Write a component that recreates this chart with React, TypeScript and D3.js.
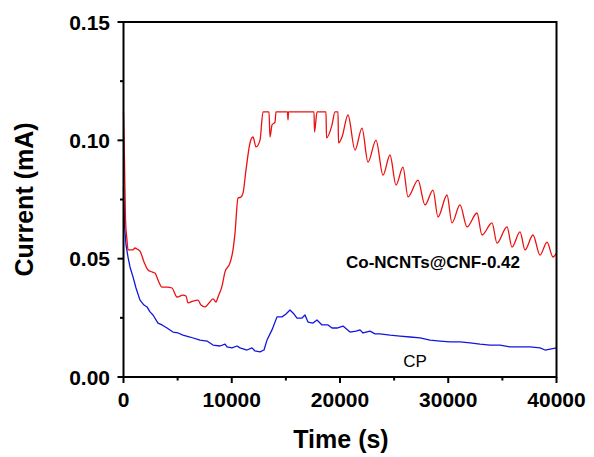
import React from "react";
import * as d3 from "d3";

const redTime = [0, 92, 185, 323, 416, 878, 1062, 1247, 1524, 1894, 2263, 2633, 2910, 3187, 3557, 4019, 4480, 4942, 5497, 5774, 5958, 6420, 6882, 7160, 7529, 7899, 8268, 8545, 8730, 9099, 9377, 9839, 10116, 10300, 10578, 10855, 11040, 11317, 11686, 11963, 12240, 12610, 12887, 13441, 13533, 13718, 13996, 14088, 15150, 15197, 15243, 17599, 17645, 17876, 18707, 18753, 19262, 19539, 19816, 19862, 20185, 20739, 21386, 22033, 22587, 23326, 23972, 24619, 25174, 25820, 26282, 27206, 27853, 28592, 29054, 29885, 30347, 31086, 31732, 32656, 33118, 34042, 34504, 35428, 35890, 36629, 37091, 37830, 38477, 39123, 39677, 40000];
const redCurrent = [0.112, 0.0917, 0.0663, 0.0579, 0.0537, 0.0537, 0.0545, 0.0541, 0.0532, 0.0486, 0.0452, 0.0444, 0.0439, 0.041, 0.038, 0.038, 0.0376, 0.0338, 0.0346, 0.0342, 0.0313, 0.0321, 0.0325, 0.0304, 0.0296, 0.0313, 0.033, 0.0317, 0.0338, 0.0384, 0.0444, 0.0482, 0.0537, 0.0608, 0.0756, 0.0761, 0.0777, 0.0875, 0.0989, 0.1014, 0.0972, 0.1001, 0.112, 0.112, 0.1014, 0.1065, 0.1077, 0.112, 0.112, 0.1086, 0.112, 0.112, 0.1035, 0.112, 0.112, 0.101, 0.1065, 0.112, 0.112, 0.0989, 0.1014, 0.1107, 0.0959, 0.1052, 0.0908, 0.1001, 0.0853, 0.0938, 0.0811, 0.0887, 0.0761, 0.0832, 0.0727, 0.079, 0.0676, 0.0769, 0.0651, 0.0727, 0.0634, 0.0693, 0.06, 0.0651, 0.0566, 0.0634, 0.0549, 0.0613, 0.0537, 0.06, 0.0515, 0.057, 0.0507, 0.0524];

const blueTime = [0, 92, 231, 416, 600, 878, 1155, 1524, 1894, 2171, 2448, 2725, 3187, 3557, 4019, 4573, 5035, 5497, 6143, 7067, 7714, 8268, 8915, 9377, 9561, 10023, 10485, 10762, 11409, 11871, 12148, 12610, 12979, 13256, 13718, 14180, 14642, 15012, 15381, 15751, 16028, 16490, 16767, 17044, 17506, 17876, 18338, 18892, 19262, 19724, 20278, 20925, 21479, 21849, 22126, 22773, 23235, 23697, 24621, 25545, 26469, 27393, 28316, 29240, 30164, 31088, 32012, 32936, 33860, 34783, 35707, 36631, 37555, 38479, 38941, 39403, 40000];
const blueCurrent = [0.0803, 0.0642, 0.0558, 0.0507, 0.0465, 0.0423, 0.0376, 0.0325, 0.0304, 0.0296, 0.0275, 0.0262, 0.0228, 0.022, 0.0207, 0.019, 0.0186, 0.0177, 0.0169, 0.0156, 0.0152, 0.0135, 0.0131, 0.0139, 0.0127, 0.0123, 0.0131, 0.0123, 0.0114, 0.0123, 0.011, 0.0106, 0.0114, 0.0156, 0.0199, 0.0254, 0.0254, 0.0266, 0.0283, 0.0266, 0.0249, 0.0249, 0.0262, 0.0232, 0.0228, 0.0241, 0.022, 0.022, 0.0207, 0.0207, 0.0215, 0.019, 0.0194, 0.0199, 0.0186, 0.0194, 0.0182, 0.0182, 0.0177, 0.0173, 0.0169, 0.0165, 0.0156, 0.0152, 0.0148, 0.0148, 0.0144, 0.0139, 0.0135, 0.0135, 0.0127, 0.0127, 0.0127, 0.0123, 0.0114, 0.0118, 0.0123];

const xTicks = [0, 10000, 20000, 30000, 40000];
const xMinor = [5000, 15000, 25000, 35000];
const yTicks = [0, 0.05, 0.1, 0.15];
const yMinor = [0.025, 0.075, 0.125];
const seriesLabels = ["Co-NCNTs@CNF-0.42", "CP"];

const W = 594, H = 457;
const L = 123.5, R = 556.5, T = 22, B = 377;
const FONT = "'Liberation Sans', Arial, sans-serif";

export default function App() {
  const x = d3.scaleLinear().domain([0, 40000]).range([L, R]);
  const y = d3.scaleLinear().domain([0, 0.15]).range([B, T]);
  const redLine = d3.line<[number, number]>().x(d => x(d[0])).y(d => y(d[1])).curve(d3.curveMonotoneX);
  const blueLine = d3.line<[number, number]>().x(d => x(d[0])).y(d => y(d[1])).curve(d3.curveLinear);
  const red = redLine(redTime.map((t, i) => [t, redCurrent[i]] as [number, number])) || "";
  const blue = blueLine(blueTime.map((t, i) => [t, blueCurrent[i]] as [number, number])) || "";

  return (
    <svg width={W} height={H} style={{ position: "absolute", left: 0, top: 0, background: "#fff" }} fontFamily={FONT}>
      <rect width={W} height={H} fill="#fff" />
      <path d={blue} fill="none" stroke="#1414e0" strokeWidth={1.3} strokeLinejoin="round" />
      <path d={red} fill="none" stroke="#ec1010" strokeWidth={1.3} strokeLinejoin="round" />
      <rect x={L} y={T} width={R - L} height={B - T} fill="none" stroke="#000" strokeWidth={2} />
      {xTicks.map(t => (
        <g key={"xt" + t}>
          <line x1={x(t)} x2={x(t)} y1={B} y2={B + 6} stroke="#000" strokeWidth={2} />
          <text x={x(t)} y={407} textAnchor="middle" fontSize={21} fontWeight="bold">{t}</text>
        </g>
      ))}
      {xMinor.map(t => (
        <line key={"xm" + t} x1={x(t)} x2={x(t)} y1={B} y2={B + 3.5} stroke="#000" strokeWidth={2} />
      ))}
      {yTicks.map(v => (
        <g key={"yt" + v}>
          <line x1={L - 6} x2={L} y1={y(v)} y2={y(v)} stroke="#000" strokeWidth={2} />
          <text x={110} y={y(v) + 7.5} textAnchor="end" fontSize={21} fontWeight="bold">{v.toFixed(2)}</text>
        </g>
      ))}
      {yMinor.map(v => (
        <line key={"ym" + v} x1={L - 3.5} x2={L} y1={y(v)} y2={y(v)} stroke="#000" strokeWidth={2} />
      ))}
      <text x={341} y={448} textAnchor="middle" fontSize={25} fontWeight="bold">Time (s)</text>
      <text transform={`translate(33,${(T + B) / 2}) rotate(-90)`} textAnchor="middle" fontSize={25} fontWeight="bold">Current (mA)</text>
      <text x={433} y={268} textAnchor="middle" fontSize={17} fontWeight="bold">{seriesLabels[0]}</text>
      <text x={415} y={367} textAnchor="middle" fontSize={17}>{seriesLabels[1]}</text>
    </svg>
  );
}
